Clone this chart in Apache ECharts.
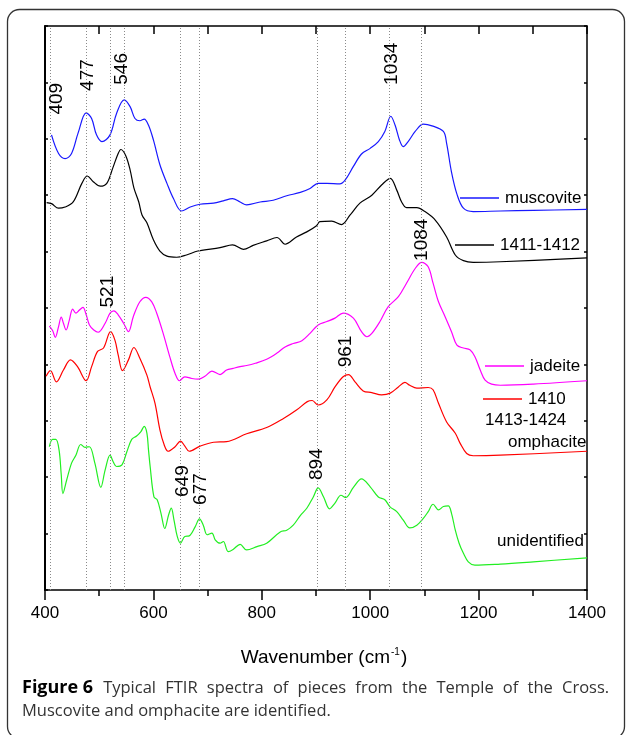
<!DOCTYPE html>
<html>
<head>
<meta charset="utf-8">
<script src="https://cdn.jsdelivr.net/npm/echarts@6/dist/echarts.min.js"></script>
<style>
  html, body { margin: 0; padding: 0; background: #fff; }
  #chart { width: 626px; height: 735px; }
</style>
</head>
<body>
<div id="chart"></div>
<script>
// spectra: [wavenumber, offset absorbance]
const muscovite = [
  [412, 8.07], [425, 7.74], [437, 7.65], [449, 7.74], [461, 8.10], [476, 8.46], [486, 8.36],
  [495, 8.07], [505, 7.95], [520, 8.07], [532, 8.45], [546, 8.69], [557, 8.57], [566, 8.36],
  [575, 8.32], [583, 8.35], [591, 8.24], [600, 7.98], [612, 7.54], [625, 7.21], [637, 6.94],
  [652, 6.72], [668, 6.79], [686, 6.84], [711, 6.86], [729, 6.90], [746, 6.94], [760, 6.88],
  [772, 6.83], [797, 6.88], [821, 6.91], [846, 6.99], [871, 7.05], [889, 7.12], [904, 7.21],
  [920, 7.21], [944, 7.20], [954, 7.27], [969, 7.51], [984, 7.73], [1000, 7.83], [1015, 7.95],
  [1027, 8.13], [1038, 8.40], [1046, 8.24], [1054, 7.98], [1061, 7.86], [1070, 7.95],
  [1083, 8.13], [1098, 8.26], [1114, 8.23], [1135, 8.13], [1141, 7.92], [1150, 7.41],
  [1160, 7.02], [1172, 6.77], [1190, 6.71], [1240, 6.72], [1301, 6.73], [1400, 6.75]
]
const sample1411 = [
  [403, 6.87], [412, 6.85], [425, 6.77], [437, 6.79], [452, 6.88], [468, 7.21], [478, 7.34],
  [489, 7.24], [502, 7.16], [514, 7.21], [525, 7.48], [535, 7.74], [540, 7.81], [549, 7.70],
  [557, 7.45], [564, 7.13], [573, 6.88], [579, 6.65], [588, 6.51], [600, 6.21], [612, 6.01],
  [625, 5.92], [643, 5.90], [661, 5.94], [682, 6.01], [723, 6.07], [746, 6.12], [766, 6.04],
  [784, 6.11], [809, 6.19], [828, 6.25], [843, 6.13], [864, 6.26], [883, 6.35], [901, 6.46],
  [907, 6.53], [929, 6.54], [947, 6.48], [963, 6.65], [981, 6.86], [1003, 7.00], [1021, 7.18],
  [1037, 7.30], [1049, 7.09], [1058, 6.88], [1067, 6.78], [1086, 6.78], [1101, 6.71],
  [1120, 6.56], [1141, 6.26], [1157, 5.94], [1172, 5.84], [1190, 5.81], [1240, 5.82], [1400, 5.89]
]
const jadeite = [
  [408, 4.68], [414, 4.60], [419, 4.48], [425, 4.67], [430, 4.84], [434, 4.73], [439, 4.61],
  [445, 4.79], [451, 4.98], [457, 4.91], [463, 4.96], [470, 5.01], [476, 4.88], [482, 4.70],
  [490, 4.61], [498, 4.57], [511, 4.73], [520, 4.91], [527, 4.95], [535, 4.88], [545, 4.73],
  [554, 4.58], [563, 4.85], [575, 5.11], [586, 5.19], [597, 5.11], [606, 4.91], [618, 4.55],
  [631, 4.11], [640, 3.84], [648, 3.71], [658, 3.78], [671, 3.75], [683, 3.74], [695, 3.79],
  [708, 3.88], [723, 3.82], [735, 3.90], [747, 3.93], [760, 3.96], [772, 3.98], [788, 4.02],
  [809, 4.09], [828, 4.20], [843, 4.31], [858, 4.37], [874, 4.42], [889, 4.55], [904, 4.70],
  [920, 4.76], [935, 4.82], [950, 4.91], [969, 4.82], [984, 4.58], [994, 4.49], [1003, 4.55],
  [1018, 4.76], [1033, 5.02], [1052, 5.20], [1067, 5.44], [1083, 5.70], [1095, 5.81],
  [1107, 5.73], [1116, 5.44], [1126, 5.11], [1138, 4.85], [1150, 4.58], [1160, 4.34],
  [1172, 4.29], [1184, 4.26], [1193, 4.14], [1203, 3.90], [1212, 3.72], [1224, 3.65],
  [1240, 3.63], [1301, 3.65], [1400, 3.71]
]
const sample1410 = [
  [402, 3.79], [410, 3.89], [421, 3.69], [434, 3.90], [447, 4.08], [460, 3.96], [476, 3.71],
  [486, 3.96], [497, 4.23], [508, 4.29], [521, 4.58], [529, 4.43], [535, 4.17], [543, 3.89],
  [554, 4.08], [564, 4.30], [575, 4.11], [588, 3.81], [594, 3.60], [603, 3.31], [612, 2.84],
  [620, 2.57], [627, 2.46], [640, 2.54], [650, 2.64], [658, 2.55], [666, 2.46], [686, 2.55],
  [711, 2.62], [735, 2.63], [772, 2.77], [809, 2.88], [840, 3.04], [864, 3.19], [884, 3.34],
  [893, 3.36], [904, 3.28], [920, 3.37], [935, 3.60], [950, 3.78], [960, 3.82], [972, 3.69],
  [987, 3.53], [1003, 3.50], [1021, 3.46], [1037, 3.49], [1052, 3.60], [1064, 3.68],
  [1073, 3.63], [1086, 3.58], [1107, 3.59], [1116, 3.55], [1126, 3.31], [1141, 2.98],
  [1157, 2.78], [1166, 2.60], [1178, 2.42], [1190, 2.38], [1240, 2.39], [1400, 2.46]
]
const unidentified = [
  [408, 2.54], [414, 2.67], [420, 2.67], [426, 2.48], [430, 2.04], [433, 1.71], [440, 1.95],
  [449, 2.25], [457, 2.39], [466, 2.58], [474, 2.53], [482, 2.54], [492, 2.25], [503, 1.82],
  [511, 2.13], [520, 2.39], [526, 2.27], [532, 2.19], [542, 2.22], [551, 2.45], [560, 2.67],
  [569, 2.73], [577, 2.81], [583, 2.90], [588, 2.78], [591, 2.48], [594, 2.19], [601, 1.65],
  [607, 1.60], [614, 1.36], [621, 1.09], [628, 1.33], [633, 1.45], [638, 1.24], [644, 0.95],
  [650, 0.83], [658, 0.95], [666, 0.96], [677, 1.12], [685, 1.26], [692, 1.15], [699, 0.98],
  [708, 1.01], [714, 0.89], [723, 0.83], [729, 0.86], [738, 0.68], [747, 0.72], [760, 0.81],
  [772, 0.71], [791, 0.77], [809, 0.83], [834, 1.03], [846, 1.06], [858, 1.15], [871, 1.32],
  [883, 1.45], [895, 1.65], [904, 1.81], [914, 1.65], [925, 1.44], [935, 1.54], [946, 1.68],
  [955, 1.64], [969, 1.82], [984, 1.97], [1000, 1.83], [1015, 1.65], [1027, 1.60], [1037, 1.47],
  [1049, 1.39], [1061, 1.24], [1073, 1.10], [1086, 1.15], [1098, 1.27], [1107, 1.39],
  [1116, 1.52], [1126, 1.42], [1135, 1.48], [1144, 1.49], [1150, 1.36], [1157, 1.06],
  [1164, 0.83], [1172, 0.65], [1181, 0.50], [1193, 0.44], [1240, 0.46], [1301, 0.50], [1400, 0.57]
]

// dotted reference lines and their peak labels
const peakLines = [409, 477, 521, 546, 649, 685, 902, 954, 1035, 1095]
const peakTexts = ['409', '477', '521', '546', '649', '677', '894', '961', '1034', '1084']
const peakTextX = [422, 479, 516, 542, 654, 688, 901, 954, 1040, 1095]
const peakTextY = [8.71, 9.13, 5.29, 9.24, 1.93, 1.79, 2.23, 4.23, 9.33, 6.21]

const captionBold = 'Figure 6'
const captionLine1 = ['Typical', 'FTIR', 'spectra', 'of', 'pieces', 'from', 'the', 'Temple', 'of', 'the', 'Cross.']
const captionLine2 = 'Muscovite and omphacite are identified.'

const FONT = 'Liberation Sans, Arial, sans-serif'
const chart = echarts.init(document.getElementById('chart'))

const mkSeries = (name, data, color) => ({
  name,
  type: 'line',
  data,
  smooth: 0.35,
  showSymbol: false,
  symbol: 'none',
  lineStyle: { color, width: 1.2 },
  itemStyle: { color },
  silent: true
})

// legend line sits at the middle of a 20px text box
const mkLegend = (name, left, top) => ({
  data: [name],
  left,
  top,
  padding: 0,
  icon: 'rect',
  itemWidth: 39,
  itemHeight: 1.4,
  selectedMode: false,
  textStyle: { fontFamily: FONT, fontSize: 17, color: '#000', lineHeight: 20, padding: [0, 0, 0, 1] }
})

const series = [
  mkSeries('muscovite', muscovite, '#1818ff'),
  mkSeries('1411-1412', sample1411, '#000000'),
  mkSeries('jadeite', jadeite, '#ff00ff'),
  mkSeries('1410', sample1410, '#ff0000'),
  mkSeries('unidentified', unidentified, '#22ee22')
]

series[0].markLine = {
  silent: true,
  symbol: 'none',
  animation: false,
  label: { show: false },
  lineStyle: { color: '#8a8a8a', width: 1, type: [1, 2] },
  data: peakLines.map(v => ({ xAxis: v }))
}
series[0].markPoint = {
  silent: true,
  animation: false,
  symbol: 'circle',
  symbolSize: 1,
  itemStyle: { color: 'rgba(0,0,0,0)' },
  data: peakTexts.map((t, i) => ({
    coord: [peakTextX[i], peakTextY[i]],
    label: {
      show: true,
      position: 'inside',
      formatter: t,
      rotate: 90,
      fontFamily: FONT,
      fontSize: 19,
      color: '#000'
    }
  }))
}

const captionText = '{b|' + captionBold + '}{g0| }' +
  captionLine1.map(w => '{n|' + w + '}').join('{g| }') +
  '\n{n|' + captionLine2 + '}'

chart.setOption({
  animation: false,
  backgroundColor: '#fff',
  grid: { left: 45, right: 39, top: 26, bottom: 145, containLabel: false },
  legend: [
    mkLegend('muscovite', 460, 188),
    mkLegend('1411-1412', 455, 235),
    mkLegend('jadeite', 485, 356),
    mkLegend('1410', 483, 389)
  ],
  xAxis: [
    {
      type: 'value',
      position: 'bottom',
      min: 400,
      max: 1400,
      interval: 200,
      splitLine: { show: false },
      axisLine: { onZero: false, lineStyle: { color: '#000', width: 1.5 } },
      axisTick: { length: 10, lineStyle: { color: '#000', width: 1.5 } },
      minorTick: { show: true, splitNumber: 2, length: 6, lineStyle: { color: '#000', width: 1.5 } },
      axisLabel: { fontFamily: FONT, fontSize: 17, color: '#000', margin: 15, formatter: v => String(v) },
      name: '{a|Wavenumber (cm}{s|-1}{a|)}',
      nameLocation: 'middle',
      nameGap: 57,
      nameTextStyle: {
        padding: [0, 0, 0, 16],
        rich: {
          a: { fontFamily: FONT, fontSize: 19, color: '#000' },
          s: { fontFamily: FONT, fontSize: 10, color: '#000', verticalAlign: 'top', padding: [0, 1, 11, 1] }
        }
      }
    },
    {
      type: 'value',
      position: 'top',
      min: 400,
      max: 1400,
      interval: 100,
      splitLine: { show: false },
      axisLine: { onZero: false, lineStyle: { color: '#000', width: 1.5 } },
      axisTick: { inside: true, length: 8, lineStyle: { color: '#000', width: 1.5 } },
      axisLabel: { show: false }
    }
  ],
  yAxis: [
    {
      type: 'value',
      position: 'left',
      min: 0,
      max: 10,
      interval: 1,
      splitLine: { show: false },
      axisLine: { show: true, onZero: false, lineStyle: { color: '#000', width: 2 } },
      axisTick: { show: true, inside: true, length: 3, lineStyle: { color: '#000', width: 1.5 } },
      axisLabel: { show: false }
    },
    {
      type: 'value',
      position: 'right',
      min: 0,
      max: 10,
      interval: 1,
      splitLine: { show: false },
      axisLine: { show: true, onZero: false, lineStyle: { color: '#000', width: 1.5 } },
      axisTick: { show: true, inside: true, length: 3, lineStyle: { color: '#000', width: 1.5 } },
      axisLabel: { show: false }
    }
  ],
  graphic: [
    {
      type: 'rect',
      silent: true,
      shape: { x: 7.5, y: 9.5, width: 617, height: 729, r: 12 },
      style: { fill: 'none', stroke: '#333', lineWidth: 1.3 }
    },
    {
      type: 'text',
      left: 485,
      top: 412,
      style: { text: '1413-1424', font: '17px ' + FONT, fill: '#000' }
    },
    {
      type: 'text',
      left: 508,
      top: 434,
      style: { text: 'omphacite', font: '17px ' + FONT, fill: '#000' }
    },
    {
      type: 'text',
      left: 497,
      top: 533,
      style: { text: 'unidentified', font: '17px ' + FONT, fill: '#000' }
    },
    {
      type: 'text',
      left: 22,
      top: 679,
      style: {
        text: captionText,
        rich: {
          b: { fontFamily: 'Open Sans', fontWeight: 'bold', fontSize: 18, fill: '#000', lineHeight: 23 },
          n: { fontFamily: 'Open Sans', fontSize: 16.5, fill: '#333', lineHeight: 23 },
          g0: { fontFamily: 'Open Sans', fontSize: 16.5, width: 10, lineHeight: 23 },
          g: { fontFamily: 'Open Sans', fontSize: 16.5, width: 9.2, lineHeight: 23 }
        }
      }
    }
  ],
  series
})
</script>
</body>
</html>
